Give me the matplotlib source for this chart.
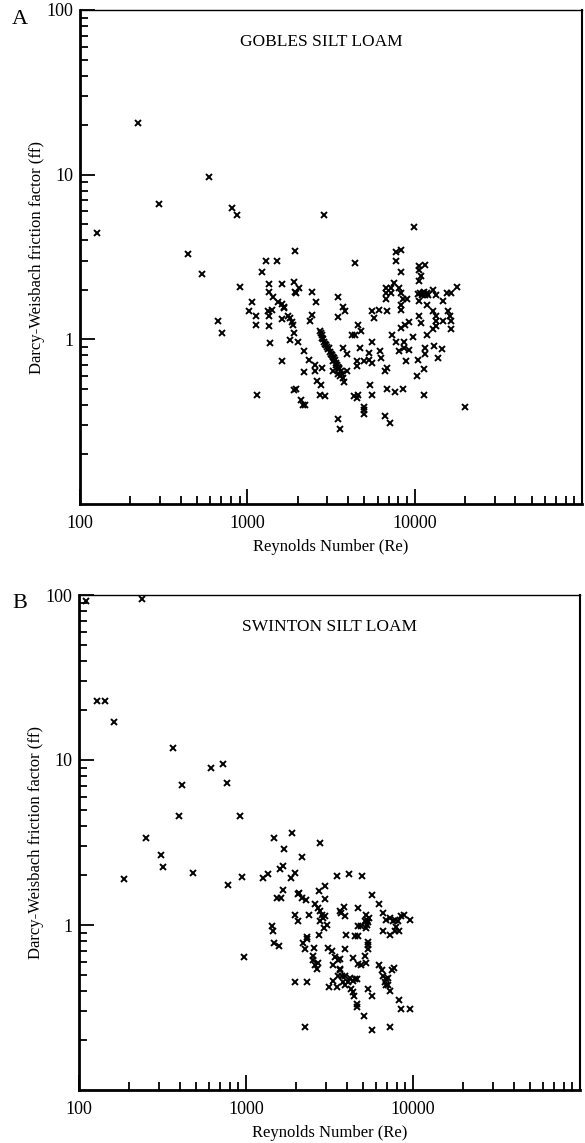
import matplotlib
matplotlib.use('Agg')
import matplotlib.pyplot as plt
from matplotlib.ticker import LogLocator, NullFormatter, FixedLocator, FixedFormatter

plt.rcParams['font.family'] = ['Liberation Serif', 'DejaVu Serif']

# Gobles silt loam (panel A)
re_a = [127, 222, 297, 443, 537, 591, 665, 705, 813, 871, 908, 1020, 1060, 1130, 1130,
        1150, 1230, 1300, 1320, 1340, 1340, 1350, 1350, 1370, 1410, 1430, 1510, 1535, 1620,
        1620, 1620, 1645, 1650, 1620, 1760, 1800, 1860, 1880, 1910, 1935, 1935, 1910, 1810,
        2020, 1900, 1950, 2040, 1960, 2100, 2160, 2220, 2190, 2190, 2350, 2380, 2420, 2420,
        2520, 2520, 2590, 2620, 2740, 2700, 2930, 2810, 2890, 3460, 3460, 3710, 3810,
        2700, 2740, 2780, 2800, 2850, 2880, 2900, 2950, 3000, 3020, 3080, 3120, 3150, 3200,
        3250, 3300, 3350, 3380, 3450, 3500, 3550, 3620, 3700,
        3230, 3410, 3510, 3270, 3460, 3600, 3710, 3760, 3920,
        3710, 3920, 4200, 4370, 4370, 4570, 4750, 4690, 4500, 4500, 5010, 5300, 5300, 5530,
        5540, 5530, 5690, 6090, 6790, 6170, 6290, 6610, 6880, 6700, 7180, 6700, 7180, 6700,
        7280, 7480, 7690, 7690, 7770, 8250, 8310, 8020, 8310, 8520, 9010, 8250, 8250, 8250,
        8700, 9200, 8020, 8600, 8600, 9200, 9730, 8830, 9860, 10570, 11600, 10860, 10570,
        10570, 10500, 10800, 11000, 11200, 11500, 11800, 12000, 11300, 10570, 12800, 13500,
        14700, 15500, 16600, 17800, 11800, 12800, 13400, 13400, 14700, 15800, 16200, 16400,
        16400, 13400, 12800, 11800, 10570, 10860, 11480, 13000, 14500, 11480, 10420, 13700,
        11300, 10280, 11300, 19900, 5380, 5530, 4320, 4500, 4600, 4960, 4960, 4960, 3460,
        3600, 6790, 7590, 8470, 6610, 7080]
ff_a = [4.45, 20.7, 6.6, 3.3, 2.48, 9.7, 1.29, 1.09, 6.3, 5.7, 2.07, 1.48, 1.68, 1.38, 1.23,
        0.46, 2.58, 2.97, 1.48, 1.38, 1.2, 2.18, 1.95, 0.95, 1.5, 1.8, 2.97, 1.68, 2.18,
        1.32, 0.74, 1.58, 1.54, 1.65, 1.38, 1.34, 1.27, 1.22, 2.24, 1.95, 3.46, 1.09, 0.99,
        0.97, 0.49, 0.5, 2.04, 1.9, 0.43, 0.4, 0.4, 0.85, 0.63, 0.75, 1.3, 1.95, 1.4,
        0.7, 0.64, 1.68, 0.56, 0.53, 0.46, 0.45, 0.67, 5.65, 1.8, 1.36, 1.58, 1.48,
        1.13, 1.1, 1.06, 1.02, 1.0, 0.97, 0.94, 0.92, 0.9, 0.87, 0.88, 0.84, 0.82, 0.8,
        0.78, 0.77, 0.75, 0.72, 0.7, 0.68, 0.66, 0.64, 0.62,
        0.74, 0.7, 0.67, 0.64, 0.62, 0.6, 0.58, 0.55, 0.64,
        0.88, 0.82, 1.06, 1.06, 2.89, 1.22, 1.13, 0.88, 0.74, 0.69, 0.74, 0.83, 0.75, 0.72,
        0.97, 1.48, 1.34, 1.5, 1.48, 0.85, 0.77, 0.64, 0.67, 2.04, 2.04, 1.9, 1.9, 1.75,
        1.06, 2.21, 2.97, 0.97, 3.4, 3.5, 2.58, 2.04, 1.9, 1.77, 1.77, 1.61, 1.5, 1.17,
        1.23, 1.27, 0.85, 0.97, 0.88, 0.86, 1.04, 0.74, 4.84, 2.77, 2.81, 2.44, 2.62,
        2.25, 1.88, 1.92, 1.85, 1.9, 1.87, 1.92, 1.86, 1.95, 1.72, 1.98, 1.85,
        1.72, 1.9, 1.9, 2.09, 1.61, 1.48, 1.38, 1.29, 1.29, 1.48, 1.38, 1.29,
        1.15, 1.2, 1.15, 1.06, 1.38, 1.25, 0.88, 0.91, 0.87, 0.82, 0.75, 0.77,
        0.66, 0.6, 0.46, 0.39, 0.53, 0.46, 0.45, 0.44, 0.46, 0.39, 0.37, 0.35, 0.33,
        0.285, 0.5, 0.48, 0.5, 0.34, 0.31]

# Swinton silt loam (panel B)
re_b = [110, 238, 128, 143, 162, 366, 617, 728, 414, 770, 397, 920, 252, 310, 318, 186,
        482, 780, 946, 1265, 1355, 1470, 1690, 1880, 1600, 1670, 1860, 1960, 1535, 1620,
        1670, 2050, 1960, 2050, 1430, 1450, 1470, 1580, 973, 1960, 2770, 2160, 3510, 4140,
        4960, 2730, 2970, 2970, 2080, 2160, 2290, 5680, 6250, 2590, 2690, 2770, 2850, 2890,
        2770, 2970, 3050, 2930, 2380, 3660, 3860, 3920, 3710, 4690, 5230, 5310, 5460, 5160,
        4690, 4890, 4500, 4690, 3970, 6610, 6890, 7280, 7590, 7800, 8130, 8470, 8830, 9600,
        7900, 8240, 6610, 7280, 2320, 2740, 5310, 5380, 5230, 7800, 2190, 2250, 2320, 2550,
        3100, 3270, 3410, 3660, 3920, 4370, 4690, 5160, 5230, 4890, 5380, 5380, 5380, 2520,
        2520, 2700, 2590, 3320, 3560, 3660, 2660, 3660, 3760, 3920, 3810, 3920, 4200, 4080,
        4370, 4500, 4630, 3560, 3510, 3140, 3320, 4250, 4370, 4440, 4630, 4630, 5090, 2320,
        2250, 5380, 5680, 5680, 7280, 6250, 6520, 6610, 6890, 7080, 6790, 7080, 7280, 6890,
        7480, 7690, 8240, 8470, 9600]
ff_b = [92, 95, 22.7, 22.7, 16.9, 11.8, 8.95, 9.46, 7.07, 7.27, 4.6, 4.6, 3.39, 2.64, 2.24,
        1.89, 2.06, 1.74, 1.95, 1.92, 2.03, 3.39, 2.87, 3.63, 2.17, 2.27, 1.92, 2.06, 1.45,
        1.45, 1.62, 1.54, 1.15, 1.06, 0.99, 0.92, 0.78, 0.75, 0.64, 0.45, 3.16, 2.6, 1.97,
        2.03, 1.97, 1.6, 1.72, 1.44, 1.56, 1.45, 1.41, 1.52, 1.34, 1.34, 1.27, 1.21, 1.15,
        1.1, 1.06, 1.13, 1.0, 0.96, 1.15, 1.21, 1.28, 1.13, 1.18, 1.27, 1.15, 1.07, 1.1,
        1.06, 0.99, 0.99, 0.86, 0.86, 0.87, 1.18, 1.07, 1.1, 1.06, 1.07, 1.06, 1.13, 1.15,
        1.07, 0.97, 0.92, 0.92, 0.87, 0.85, 0.87, 1.0, 1.04, 0.96, 0.92, 0.78, 0.72, 0.82,
        0.73, 0.73, 0.7, 0.64, 0.62, 0.72, 0.63, 0.58, 0.65, 0.59, 0.57, 0.79, 0.76, 0.72,
        0.65, 0.61, 0.59, 0.57, 0.57, 0.61, 0.54, 0.54, 0.53, 0.49, 0.49, 0.45, 0.43, 0.48,
        0.45, 0.46, 0.47, 0.47, 0.49, 0.42, 0.42, 0.46, 0.41, 0.39, 0.37, 0.33, 0.32, 0.28,
        0.45, 0.24, 0.41, 0.37, 0.23, 0.24, 0.57, 0.53, 0.49, 0.47, 0.48, 0.45, 0.43, 0.4,
        0.43, 0.53, 0.55, 0.35, 0.31, 0.31]

x_ticks = [100, 1000, 10000]
y_ticks = [1, 10, 100]

fig = plt.figure(figsize=(5.85, 11.43), dpi=100)
ax_a = fig.add_axes([80 / 585, 1 - 504 / 1143, 502 / 585, 494 / 1143])
ax_b = fig.add_axes([79 / 585, 1 - 1090 / 1143, 501 / 585, 495 / 1143])


def style_axes(ax, title, tx):
    ax.set_xscale('log')
    ax.set_yscale('log')
    ax.set_xlim(100, 100000)
    ax.set_ylim(0.1, 100)
    ax.xaxis.set_major_locator(FixedLocator(x_ticks))
    ax.xaxis.set_major_formatter(FixedFormatter([str(v) for v in x_ticks]))
    ax.yaxis.set_major_locator(FixedLocator(y_ticks))
    ax.yaxis.set_major_formatter(FixedFormatter([str(v) for v in y_ticks]))
    ax.xaxis.set_minor_locator(LogLocator(base=10, subs=range(2, 10)))
    ax.yaxis.set_minor_locator(LogLocator(base=10, subs=range(2, 10)))
    ax.xaxis.set_minor_formatter(NullFormatter())
    ax.yaxis.set_minor_formatter(NullFormatter())
    ax.tick_params(which='both', direction='in', top=False, right=False,
                   labelsize=13, width=1.3)
    ax.tick_params(axis='x', which='major', pad=8)
    ax.tick_params(axis='y', which='major', pad=5)
    ax.tick_params(which='major', length=11)
    ax.tick_params(which='minor', length=6)
    ax.spines['left'].set_linewidth(2)
    ax.spines['bottom'].set_linewidth(2)
    ax.spines['top'].set_linewidth(1)
    ax.spines['right'].set_linewidth(1.5)
    ax.set_xlabel('Reynolds Number (Re)', fontsize=12, labelpad=5)
    ax.set_ylabel('Darcy-Weisbach friction factor (ff)', fontsize=12, labelpad=1)
    ax.text(tx, 0.935, title, transform=ax.transAxes, fontsize=12.5,
            ha='center', va='center')


ax_a.plot(re_a, ff_a, linestyle='none', marker='x', markersize=4,
          markeredgewidth=1.4, color='black')
style_axes(ax_a, 'GOBLES SILT LOAM', 0.48)

ax_b.plot(re_b, ff_b, linestyle='none', marker='x', markersize=4,
          markeredgewidth=1.4, color='black', clip_on=False)
style_axes(ax_b, 'SWINTON SILT LOAM', 0.50)

fig.text(12 / 585, 1 - 20 / 1143, 'A', fontsize=16, ha='left', va='center')
fig.text(12 / 585, 1 - 603 / 1143, 'B', fontsize=16, ha='left', va='center')

fig.savefig('out.png', dpi=100)
